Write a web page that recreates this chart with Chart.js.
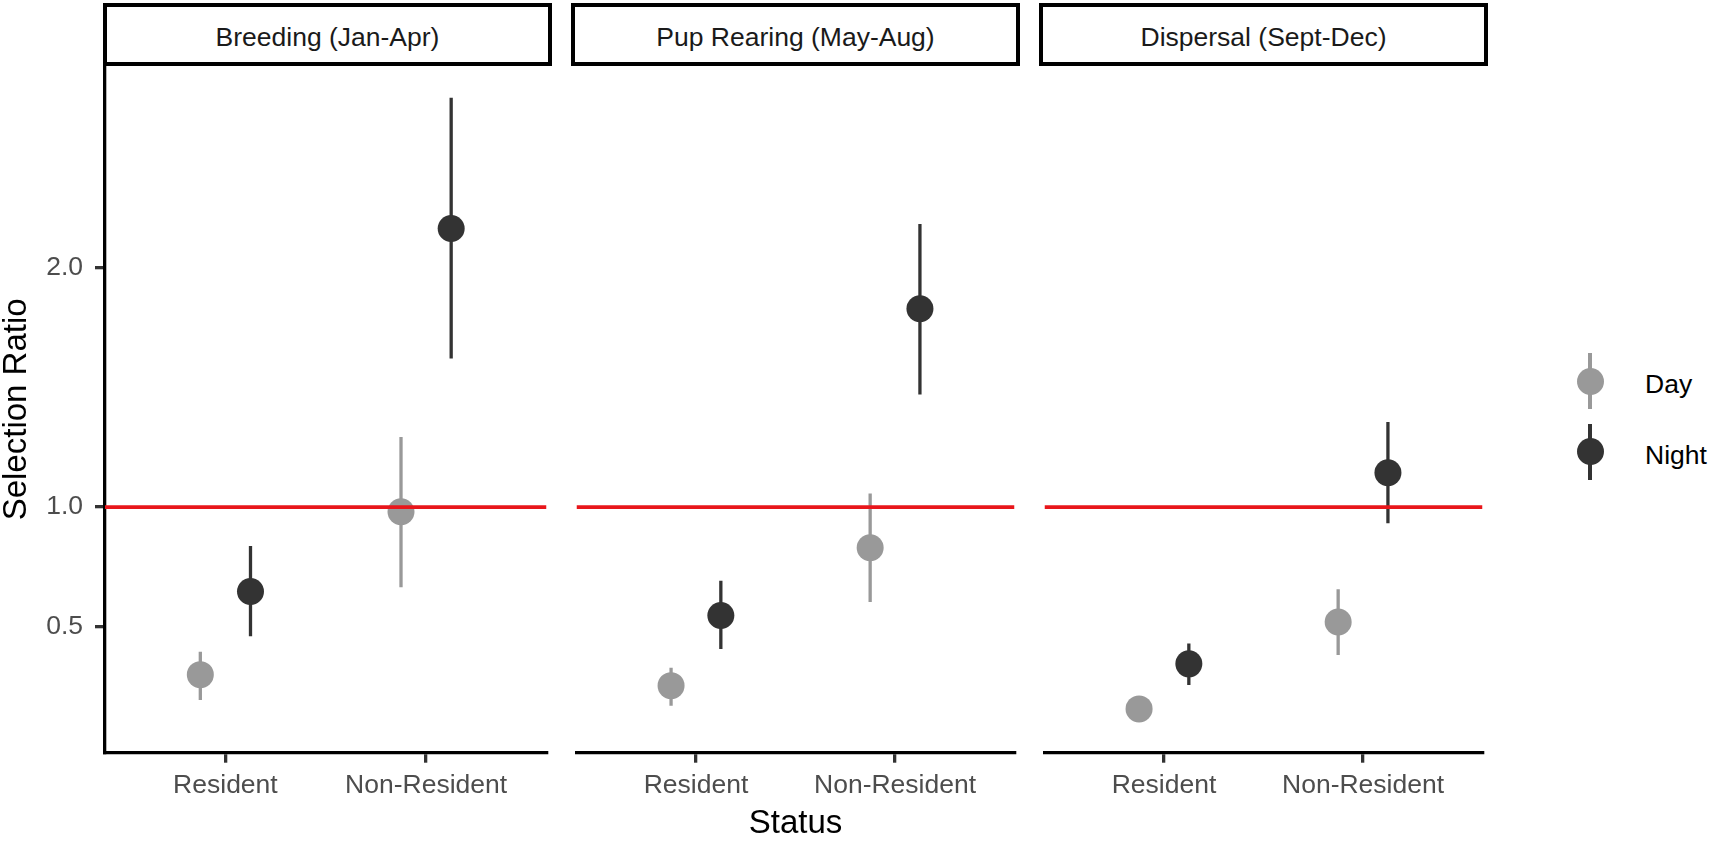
<!DOCTYPE html>
<html><head><meta charset="utf-8">
<script src="https://cdn.jsdelivr.net/npm/chart.js@4.4.1/dist/chart.umd.min.js"></script>
<style>
html,body{margin:0;padding:0;background:#fff;}
body{width:1712px;height:841px;position:relative;overflow:hidden;font-family:"Liberation Sans",Arial,sans-serif;}
.wrap{position:absolute;top:0;height:841px;}
.strip{position:absolute;box-sizing:border-box;border:4px solid #000;background:#fff;}
.striptext{position:absolute;text-align:center;font-size:26.5px;line-height:30px;color:#1a1a1a;white-space:nowrap;}
.lg-line{position:absolute;width:3.3px;margin-left:-1.65px;}
.lg-dot{position:absolute;width:27px;height:27px;margin-left:-13.5px;margin-top:-13.5px;border-radius:50%;}
.lg-text{position:absolute;font-size:26.5px;line-height:30px;color:#000;white-space:nowrap;}
</style>
</head><body>
<script>
// ---- data ----
const periods = ['Breeding (Jan-Apr)', 'Pup Rearing (May-Aug)', 'Dispersal (Sept-Dec)'];
const statuses = ['Resident', 'Non-Resident'];
const groups = ['Day', 'Night'];
const dayMean  = [[0.300, 0.980], [0.254, 0.830], [0.157, 0.520]];
const dayLow   = [[0.194, 0.665], [0.170, 0.603], [0.110, 0.382]];
const dayHigh  = [[0.396, 1.293], [0.329, 1.057], [0.205, 0.657]];
const nightMean = [[0.647, 2.163], [0.547, 1.828], [0.345, 1.143]];
const nightLow  = [[0.460, 1.620], [0.407, 1.470], [0.257, 0.932]];
const nightHigh = [[0.837, 2.709], [0.692, 2.182], [0.430, 1.355]];
const yTicks = [0.5, 1.0, 2.0];
const refLine = 1;

// ---- style / layout ----
const colors = { Day: '#999999', Night: '#333333' };
const refColor = '#e8161b';
const dodge = 0.125;
const xMin = 0.4, xMax = 2.6;
const yMin = -0.026, yMax = 2.842;
const panelLeft = [105, 573, 1041];
const panelWidth = 445;
const panelTop = 66;
const xAxisH = 88.3;

Chart.defaults.font.family = "'Liberation Sans', Arial, sans-serif";
Chart.defaults.animation = false;

const stats = { Day: [dayMean, dayLow, dayHigh], Night: [nightMean, nightLow, nightHigh] };

periods.forEach((name, p) => {
  const leftExtra = p === 0 ? 105 : 10;
  const w = leftExtra + panelWidth + 10;
  const wrap = document.createElement('div');
  wrap.className = 'wrap';
  wrap.style.left = (panelLeft[p] - leftExtra) + 'px';
  wrap.style.width = w + 'px';
  const cv = document.createElement('canvas');
  wrap.appendChild(cv);
  document.body.appendChild(wrap);

  // strip
  const st = document.createElement('div');
  st.className = 'strip';
  st.style.left = (panelLeft[p] - 2) + 'px';
  st.style.top = '3px';
  st.style.width = (panelWidth + 4) + 'px';
  st.style.height = '63px';
  document.body.appendChild(st);
  const tx = document.createElement('div');
  tx.className = 'striptext';
  tx.style.left = (panelLeft[p] - 2) + 'px';
  tx.style.width = (panelWidth + 4) + 'px';
  tx.style.top = '21.8px';
  tx.textContent = name;
  document.body.appendChild(tx);

  const datasets = [];
  groups.forEach((g, gi) => {
    const off = gi === 0 ? -dodge : dodge;
    const [mean, low, high] = stats[g];
    statuses.forEach((s, si) => {
      datasets.push({
        type: 'line',
        data: [{ x: si + 1 + off, y: low[p][si] }, { x: si + 1 + off, y: high[p][si] }],
        borderColor: colors[g], borderWidth: 3.3, pointRadius: 0, order: 2
      });
    });
    datasets.push({
      type: 'line', showLine: false,
      data: statuses.map((s, si) => ({ x: si + 1 + off, y: mean[p][si] })),
      backgroundColor: colors[g], borderColor: colors[g], borderWidth: 0,
      pointRadius: 13.5, pointBorderWidth: 0, order: 1
    });
  });
  datasets.push({
    type: 'line',
    data: [{ x: xMin, y: refLine }, { x: xMax, y: refLine }],
    borderColor: refColor, borderWidth: 3.7, pointRadius: 0, order: 0
  });

  const gridOpts = { display: true, drawOnChartArea: false, drawTicks: true, tickLength: 10, tickWidth: 3.3, lineWidth: 3.3, tickColor: '#333333', color: '#333333' };
  const borderOpts = { display: true, color: '#000000', width: 3.3 };

  new Chart(cv, {
    type: 'line',
    data: { datasets },
    options: {
      responsive: true, maintainAspectRatio: false, devicePixelRatio: 1,
      events: [],
      layout: { padding: { left: p === 0 ? 0 : 10, right: 10, top: panelTop, bottom: 0 } },
      plugins: { legend: { display: false }, tooltip: { enabled: false } },
      scales: {
        x: {
          type: 'linear', min: xMin, max: xMax,
          afterBuildTicks: s => { s.ticks = [1, 2].map(v => ({ value: v })); },
          afterFit: s => { s.height = xAxisH; },
          ticks: { callback: v => statuses[v - 1], color: '#4d4d4d', font: { size: 26.5 }, padding: 7, maxRotation: 0, autoSkip: false },
          grid: gridOpts, border: borderOpts,
          title: { display: p === 1, text: 'Status', color: '#000000', font: { size: 33, lineHeight: 1 }, padding: { top: 0, bottom: 1 } }
        },
        y: {
          type: 'linear', min: yMin, max: yMax, display: p === 0,
          afterBuildTicks: s => { s.ticks = yTicks.map(v => ({ value: v })); },
          afterFit: s => { s.width = p === 0 ? 105 : 0; },
          ticks: { callback: v => v.toFixed(1), color: '#4d4d4d', font: { size: 26.5 }, padding: 12 },
          grid: gridOpts, border: borderOpts,
          title: { display: true, text: 'Selection Ratio', color: '#000000', font: { size: 33, lineHeight: 1 }, padding: { top: 0.5, bottom: 0 } }
        }
      }
    }
  });
});

// ---- legend ----
const legendY = { Day: 381, Night: 451.7 };
groups.forEach(g => {
  const cy = legendY[g];
  const ln = document.createElement('div');
  ln.className = 'lg-line';
  ln.style.left = '1590px'; ln.style.top = (cy - 28) + 'px'; ln.style.height = '56px';
  ln.style.background = colors[g];
  document.body.appendChild(ln);
  const dot = document.createElement('div');
  dot.className = 'lg-dot';
  dot.style.left = '1590px'; dot.style.top = cy + 'px';
  dot.style.background = colors[g];
  document.body.appendChild(dot);
  const t = document.createElement('div');
  t.className = 'lg-text';
  t.style.left = '1645px'; t.style.top = (cy + 12.3 - 9.18 - 15) + 'px';
  t.textContent = g;
  document.body.appendChild(t);
});
</script>
</body></html>
